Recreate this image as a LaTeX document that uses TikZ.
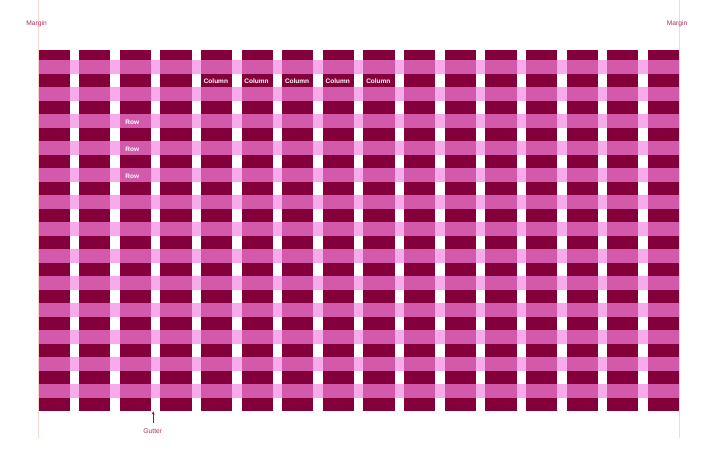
\documentclass[tikz,border=0pt]{standalone}
\usepackage{fontspec}
\setmainfont{Liberation Sans}
\usetikzlibrary{arrows.meta}
\definecolor{colc}{HTML}{84003A}
\definecolor{bandmid}{HTML}{D35AAA}
\definecolor{bandlight}{HTML}{F9AAEB}
\definecolor{marginc}{HTML}{FAD6CC}
\definecolor{notec}{HTML}{B22E62}
\definecolor{arrowc}{HTML}{9A1048}
\tikzset{
  celllabel/.style={anchor=base west, inner sep=0pt, text=white, font=\fontsize{6.5}{7}\selectfont\bfseries},
  notelabel/.style={anchor=base, inner sep=0pt, text=notec, font=\fontsize{6.7}{8}\selectfont},
  marginline/.style={draw=marginc, line width=0.5pt},
  gutterarrow/.style={draw=arrowc, line width=0.6pt, -{Stealth[length=3.2pt,width=2.8pt]}}
}
\begin{document}
\begin{tikzpicture}[x=1pt,y=-1pt]
\useasboundingbox (0,0) rectangle (720,461);
\fill[white] (0,0) rectangle (720,461);
% margin lines
\coordinate (mlt) at (38.5,0);
\coordinate (mlb) at (38.5,438);
\coordinate (mrt) at (679,0);
\coordinate (mrb) at (679,438);
\draw[marginline] (mlt) -- (mlb);
\draw[marginline] (mrt) -- (mrb);
% light row bands across the whole grid
\foreach \k in {0,...,12}
  \fill[bandlight] (38.5,{60+27*\k}) rectangle (679,{73.5+27*\k});
% columns with darker band overlay
\foreach \i in {0,...,15} {
  \fill[colc] ({38.5+40.62*\i},50) rectangle ({69.7+40.62*\i},411);
  \foreach \k in {0,...,12}
    \fill[bandmid] ({38.5+40.62*\i},{60+27*\k}) rectangle ({69.7+40.62*\i},{73.5+27*\k});
}
% column labels
\foreach \i [count=\n] in {4,...,8}
  \node[celllabel] (col\n) at ({38.5+40.62*\i+2.6},83) {Column};
% row labels
\foreach \k [count=\n] in {0,1,2}
  \node[celllabel] (row\n) at ({38.5+40.62*2+5.4},{124+27*\k}) {Row};
% margin labels
\node[notelabel] (marginL) at (36.5,25.7) {Margin};
\node[notelabel] (marginR) at (677,25.7) {Margin};
% gutter label and arrow
\node[notelabel] (gutter) at (152.8,433.5) {Gutter};
\coordinate (gtail) at (153.2,422.8);
\coordinate (ghead) at (153.2,411.3);
\draw[gutterarrow] (gtail) -- (ghead);
\end{tikzpicture}
\end{document}
